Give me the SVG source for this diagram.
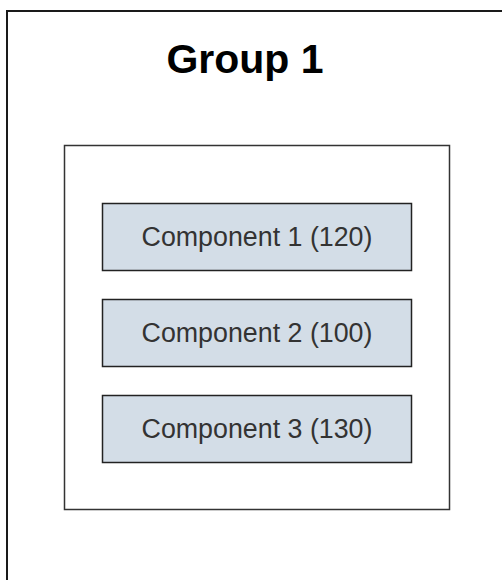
<svg xmlns="http://www.w3.org/2000/svg" width="502" height="580" viewBox="0 0 502 580">
<style>
.comp rect{fill:#d3dde7;stroke:#222;stroke-width:1.5}
.comp text{font-family:"Liberation Sans",Arial,sans-serif;font-size:26.8px;fill:#333;text-anchor:middle}
</style>
<rect width="502" height="580" fill="#fff"/>
<g id="group1">
<rect x="7" y="11" width="520" height="600" fill="#fff" stroke="#1a1a1a" stroke-width="2"/>
<text x="245" y="73" font-family="Liberation Sans,Arial,sans-serif" font-weight="bold" font-size="41" fill="#000" text-anchor="middle">Group 1</text>
</g>
<g id="container">
<rect x="64.5" y="145.5" width="385" height="364" fill="#fff" stroke="#333" stroke-width="1.5"/>
</g>
<g id="component1" class="comp">
<rect x="102.5" y="203.5" width="309" height="67"/>
<text x="257" y="246">Component 1 (120)</text>
</g>
<g id="component2" class="comp">
<rect x="102.5" y="299.5" width="309" height="67"/>
<text x="257" y="342">Component 2 (100)</text>
</g>
<g id="component3" class="comp">
<rect x="102.5" y="395.5" width="309" height="67"/>
<text x="257" y="438">Component 3 (130)</text>
</g>
<g id="connectors"/>
</svg>
